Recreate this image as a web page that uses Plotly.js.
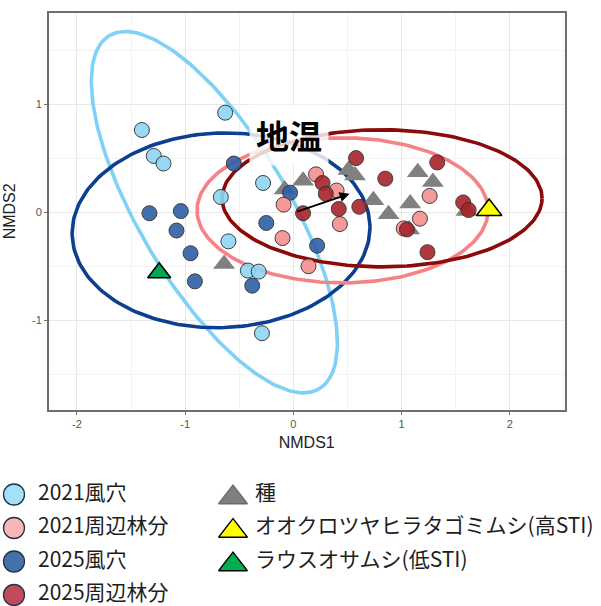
<!DOCTYPE html>
<html>
<head>
<meta charset="utf-8">
<script src="https://cdn.plot.ly/plotly-3.0.1.min.js"></script>
<style>html,body{margin:0;padding:0;background:#fff;}#chart{width:601px;height:606px;}</style>
</head>
<body>
<div id="chart"></div>
<script>
// ---- data (NMDS scores) ----
const groupNames = ["2021風穴", "2021周辺林分", "2025風穴", "2025周辺林分"];
const fuketsu2021X = [-1.40, -0.63, -1.29, -1.20, -0.28, -0.67, -0.60, -0.42, -0.32, -0.29];
const fuketsu2021Y = [0.76, 0.92, 0.52, 0.45, 0.27, 0.14, -0.27, -0.54, -0.55, -1.12];
const forest2021X = [-0.09, -0.10, 0.14, 0.21, 0.40, 0.43, 1.26, 1.17, 1.02];
const forest2021Y = [0.07, -0.24, -0.50, 0.35, 0.20, -0.11, 0.15, -0.06, -0.15];
const fuketsu2025X = [-1.33, -1.04, -1.08, -0.95, -0.91, -0.38, -0.25, -0.55, -0.03, 0.22];
const fuketsu2025Y = [-0.01, 0.01, -0.17, -0.38, -0.64, -0.68, -0.10, 0.45, 0.18, -0.31];
const forest2025X = [0.58, 0.27, 0.30, 0.42, 0.61, 0.09, 0.85, 1.33, 1.24, 1.57, 1.62, 1.05];
const forest2025Y = [0.50, 0.27, 0.17, 0.03, 0.05, -0.01, 0.31, 0.46, -0.37, 0.09, 0.02, -0.16];
const speciesName = "種";
const speciesX = [-0.64, 0.09, -0.08, 0.51, 0.57, 0.74, 0.88, 1.08, 1.15, 1.29, 1.07, 1.60];
const speciesY = [-0.48, 0.29, 0.21, 0.39, 0.34, 0.11, -0.02, 0.08, 0.37, 0.28, -0.16, 0.01];
const highSTIName = "オオクロツヤヒラタゴミムシ(高STI)";
const highSTIX = [1.81];
const highSTIY = [0.02];
const lowSTIName = "ラウスオサムシ(低STI)";
const lowSTIX = [-1.24];
const lowSTIY = [-0.56];
// 95% ellipses: centre x, centre y, semi-axis a, semi-axis b, rotation (deg)
const ellipseCX = [-0.73, 0.455, -0.668, 0.82];
const ellipseCY = [0.0, 0.017, -0.168, 0.128];
const ellipseA = [1.90, 1.345, 1.377, 1.479];
const ellipseB = [0.69, 0.671, 0.90, 0.634];
const ellipseAngle = [-59.3, 0, 2, 0];
// envfit vector for soil temperature
const vectorLabel = "地温";
const vectorFrom = [0.02, 0.00];
const vectorTo = [0.52, 0.17];
const labelPos = [-0.04, 0.716];
const xTicks = [-2, -1, 0, 1, 2];
const xTickText = ["-2", "-1", "0", "1", "2"];
const yTicks = [-1, 0, 1];
const yTickText = ["-1", "0", "1"];
const triangleNames = [speciesName, highSTIName, lowSTIName];

// ---- styles ----
const fillColors = ["#8dd6f4", "#f48e8e", "#2f5fa6", "#a8242c"];
const lineColors = ["#7fd1f5", "#f58385", "#0c3f8f", "#8b0a0a"];
const keyColors = ["#a3e1f8", "#fbb6b6", "#4471ac", "#c14b5b"];
const triColors = ["#7f7f7f", "#ffff00", "#00b050"];
const triLine = ["#6a6a6a", "#000000", "#000000"];
const W = 601, H = 606;
const plotL = 48.5, plotR = 565, plotT = 12.7, plotB = 410;
const legendTop = 470;
const rowY0 = 494.5, rowDY = 33.5;
const col1Key = 14, col1Text = 38, col2Key = 233, col2Text = 255, triNudge = 3;

function ellipsePath(i) {
  const xs = [], ys = [];
  const t = ellipseAngle[i] * Math.PI / 180;
  for (let k = 0; k <= 200; k++) {
    const u = 2 * Math.PI * k / 200;
    const ex = ellipseA[i] * Math.cos(u), ey = ellipseB[i] * Math.sin(u);
    xs.push(ellipseCX[i] + ex * Math.cos(t) - ey * Math.sin(t));
    ys.push(ellipseCY[i] + ex * Math.sin(t) + ey * Math.cos(t));
  }
  return {x: xs, y: ys};
}

const traces = [];
[0, 2, 1, 3].forEach(i => {
  const p = ellipsePath(i);
  traces.push({type: "scatter", mode: "lines", x: p.x, y: p.y, showlegend: false,
    hoverinfo: "skip", line: {color: lineColors[i], width: 3.6}});
});
traces.push({type: "scatter", mode: "markers", name: speciesName, x: speciesX, y: speciesY,
  showlegend: false, marker: {symbol: "triangle-up", size: 19, color: "#808080", line: {width: 0}}});
const gx = [fuketsu2021X, forest2021X, fuketsu2025X, forest2025X];
const gy = [fuketsu2021Y, forest2021Y, fuketsu2025Y, forest2025Y];
[0, 2, 1, 3].forEach(i => {
  traces.push({type: "scatter", mode: "markers", name: groupNames[i], x: gx[i], y: gy[i],
    showlegend: false,
    marker: {symbol: "circle", size: 15, color: fillColors[i], opacity: 0.9,
      line: {color: "#2b2b2b", width: 1}}});
});
traces.push({type: "scatter", mode: "markers", name: highSTIName, x: highSTIX, y: highSTIY,
  showlegend: false,
  marker: {symbol: "triangle-up", size: 22, color: "#ffff00", line: {color: "#000", width: 1.5}}});
traces.push({type: "scatter", mode: "markers", name: lowSTIName, x: lowSTIX, y: lowSTIY,
  showlegend: false,
  marker: {symbol: "triangle-up", size: 20, color: "#00a651", line: {color: "#000", width: 1.5}}});

// ---- legend drawn on a hidden pixel-scaled axis pair below the plot ----
const legendFont = {family: "Noto Sans CJK JP", size: 21, color: "#1e1e1e"};
const rows1 = groupNames.map((_, i) => rowY0 + i * rowDY);
const rows2 = triangleNames.map((_, i) => rowY0 + i * rowDY);
traces.push({type: "scatter", mode: "markers", xaxis: "x2", yaxis: "y2", showlegend: false,
  hoverinfo: "skip", cliponaxis: false,
  x: groupNames.map(() => col1Key), y: rows1,
  marker: {symbol: "circle", size: 21, color: keyColors, line: {color: "#1f3346", width: 1.3}}});
traces.push({type: "scatter", mode: "text", xaxis: "x2", yaxis: "y2", showlegend: false,
  hoverinfo: "skip", cliponaxis: false,
  x: groupNames.map(() => col1Text), y: rows1, text: groupNames,
  textposition: "middle right", textfont: legendFont});
traces.push({type: "scatter", mode: "markers", xaxis: "x2", yaxis: "y2", showlegend: false,
  hoverinfo: "skip", cliponaxis: false,
  x: triangleNames.map(() => col2Key), y: rows2.map(v => v + triNudge),
  marker: {symbol: "triangle-up", size: 25, color: triColors, line: {color: triLine, width: 1.3}}});
traces.push({type: "scatter", mode: "text", xaxis: "x2", yaxis: "y2", showlegend: false,
  hoverinfo: "skip", cliponaxis: false,
  x: triangleNames.map(() => col2Text), y: rows2, text: triangleNames,
  textposition: "middle right", textfont: legendFont});

const axisCommon = {
  showline: true, mirror: true, linecolor: "#6e6e6e", linewidth: 1.5,
  ticks: "outside", ticklen: 3, tickcolor: "#6e6e6e", tickwidth: 1,
  showgrid: true, gridcolor: "#e8e8e8", gridwidth: 1, zeroline: false, automargin: false,
  tickfont: {family: "Liberation Sans, Arial", size: 11, color: "#555"},
  minor: {dtick: 0.5, showgrid: true, gridcolor: "#f3f3f3", gridwidth: 1}
};
const titleFont = {family: "Liberation Sans, Arial", size: 16, color: "#222"};

const layout = {
  width: W, height: H,
  paper_bgcolor: "#fff", plot_bgcolor: "rgba(0,0,0,0)",
  margin: {l: 0, r: 0, t: 0, b: 0, autoexpand: false},
  showlegend: false,
  xaxis: Object.assign({}, axisCommon, {domain: [plotL / W, plotR / W], anchor: "y",
    range: [-2.263, 2.511], tickvals: xTicks, ticktext: xTickText,
    title: {text: "NMDS1", standoff: 8, font: titleFont}}),
  yaxis: Object.assign({}, axisCommon, {domain: [(H - plotB) / H, (H - plotT) / H], anchor: "x",
    range: [-1.83, 1.845], tickvals: yTicks, ticktext: yTickText,
    title: {text: "NMDS2", standoff: 12, font: titleFont}}),
  xaxis2: {domain: [0, 1], anchor: "y2", range: [0, W], visible: false, fixedrange: true},
  yaxis2: {domain: [0, (H - legendTop) / H], anchor: "x2", range: [H, legendTop], visible: false, fixedrange: true},
  annotations: [
    {x: vectorTo[0], y: vectorTo[1], ax: vectorFrom[0], ay: vectorFrom[1],
     xref: "x", yref: "y", axref: "x", ayref: "y", text: "", showarrow: true,
     arrowhead: 2, arrowsize: 1, arrowwidth: 2, arrowcolor: "#000"},
    {x: labelPos[0], y: labelPos[1], xref: "x", yref: "y", text: "<b>" + vectorLabel + "</b>",
     showarrow: false, font: {family: "Noto Sans CJK JP", size: 33, color: "#000"},
     bgcolor: "rgba(255,255,255,0.82)", borderpad: 6}
  ]
};

Plotly.newPlot("chart", traces, layout, {displayModeBar: false, staticPlot: true});
</script>
</body>
</html>
